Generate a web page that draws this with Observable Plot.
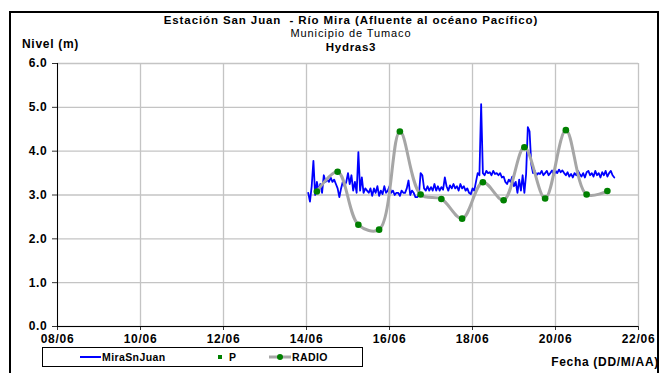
<!DOCTYPE html>
<html><head><meta charset="utf-8">
<script src="https://cdn.jsdelivr.net/npm/d3@7"></script>
<script src="https://cdn.jsdelivr.net/npm/@observablehq/plot@0.6"></script>
<style>
body{margin:0;background:#fff;}
#wrap{position:relative;width:662px;height:373px;overflow:hidden;font-family:"Liberation Sans",Arial,sans-serif;}
.t{position:absolute;white-space:pre;color:#000;font-size:12px;line-height:12px;letter-spacing:0.7px;}
.b{font-weight:bold;}
#frame{position:absolute;left:9px;top:11px;width:646px;height:400px;border:2px solid #000;}
#legend{position:absolute;left:42px;top:347px;width:319px;height:18px;border:1px solid #000;background:#fff;}
svg{position:absolute;left:0;top:0;}
</style></head><body><div id="wrap">
<div id="frame"></div>
</div>
<script>
// ---- data ----
const titleLines = ["Estación San Juan  - Río Mira (Afluente al océano Pacífico)", "Municipio de Tumaco", "Hydras3"];
const yLabel = "Nivel (m)";
const xLabel = "Fecha (DD/M/AA)";
const seriesNames = ["MiraSnJuan", "P", "RADIO"];
const xTickDates = ["2011-06-08","2011-06-10","2011-06-12","2011-06-14","2011-06-16","2011-06-18","2011-06-20","2011-06-22"];
const yTicks = [0,1,2,3,4,5,6];

// MiraSnJuan hourly levels starting 14/06 01:00
const levelStart = "2011-06-14T01:00:00Z";
const levelValues = [
 3.05,2.85,3.2,3.78,3.0,3.3,3.1,3.25,3.05,3.45,3.3,3.35,3.3,3.4,3.3,3.35,3.25,3.15,2.95,3.15,3.3,3.2,3.3,3.5,
 3.25,3.45,3.1,3.3,3.05,3.98,3.1,3.4,3.05,3.15,3.1,3.05,3.15,2.98,3.15,3.05,3.2,2.98,3.1,3.02,3.2,3.05,3.1,3.2,
 3.05,3.1,3.0,3.05,3.05,2.98,3.1,3.05,3.05,3.15,3.33,3.0,3.1,3.05,2.95,2.95,3.0,3.5,3.45,3.15,3.1,3.2,3.1,3.18,
 3.1,3.25,3.1,3.2,3.1,3.18,3.12,3.4,3.2,3.1,3.22,3.15,3.25,3.15,3.2,3.1,3.25,3.15,3.2,3.1,3.15,3.05,3.02,3.15,
 3.1,3.3,3.5,3.45,5.07,3.5,3.45,3.55,3.5,3.52,3.45,3.55,3.48,3.5,3.45,3.5,3.4,3.42,3.3,3.25,3.35,3.3,3.42,3.2,
 3.3,3.05,3.35,3.1,3.45,3.05,3.48,4.55,4.45,3.7,3.5,3.55,3.45,3.5,3.48,3.55,3.45,3.5,3.55,3.45,3.5,3.56,3.45,3.55,
 3.5,3.58,3.52,3.56,3.5,3.45,3.52,3.42,3.48,3.4,3.5,3.45,3.55,3.48,3.42,3.5,3.4,3.52,3.55,3.45,3.5,3.42,3.55,3.45,
 3.5,3.4,3.52,3.45,3.55,3.42,3.5,3.55,3.45,3.4
];

// RADIO readings
const radioTimes = ["2011-06-14T06:00Z","2011-06-14T18:00Z","2011-06-15T06:00Z","2011-06-15T18:00Z","2011-06-16T06:00Z",
 "2011-06-16T18:00Z","2011-06-17T06:00Z","2011-06-17T18:00Z","2011-06-18T06:00Z","2011-06-18T18:00Z",
 "2011-06-19T06:00Z","2011-06-19T18:00Z","2011-06-20T06:00Z","2011-06-20T18:00Z","2011-06-21T06:00Z"];
const radioValues = [3.08,3.53,2.32,2.21,4.45,3.01,2.91,2.46,3.29,2.88,4.09,2.92,4.48,3.01,3.09];

// P (no readings in period)
const pTimes = [];
const pValues = [];

// ---- build ----
const t0 = new Date(levelStart).getTime();
const level = levelValues.map((v,i)=>({t:new Date(t0 + i*3600e3), v}));
const radio = radioTimes.map((d,i)=>({t:new Date(d), v:radioValues[i]}));
const pData = pTimes.map((d,i)=>({t:new Date(d), v:pValues[i]}));
const xTicks = xTickDates.map(d=>new Date(d+"T00:00:00Z"));

const font = '"Liberation Sans", Arial, sans-serif';
const chart = Plot.plot({
  width:662, height:373,
  marginLeft:57, marginRight:24, marginTop:63, marginBottom:47,
  style:{fontFamily:font, fontSize:"12px", fontWeight:"bold", letterSpacing:"0.7px", background:"transparent", color:"#000", overflow:"visible"},
  x:{type:"utc", domain:[xTicks[0], xTicks[xTicks.length-1]]},
  y:{domain:[0,6]},
  marks:[
    Plot.gridX(xTicks, {stroke:"#c4c4c4", strokeOpacity:1, strokeWidth:1.3}),
    Plot.gridY(yTicks, {stroke:"#c4c4c4", strokeOpacity:1, strokeWidth:1.3}),
    Plot.axisX(xTicks, {tickFormat:d3.utcFormat("%d/%m"), tickSize:4, tickPadding:4, label:null, stroke:"#333"}),
    Plot.axisY(yTicks, {tickFormat:d=>d.toFixed(1), tickSize:5, tickPadding:5, label:null, stroke:"#333"}),
    Plot.ruleX([xTicks[0]], {stroke:"#000"}),
    Plot.ruleY([0], {stroke:"#000"}),
    Plot.line(level, {x:"t", y:"v", stroke:"#0000ff", strokeWidth:1.8}),
    Plot.dot(pData, {x:"t", y:"v", symbol:"square", r:2, fill:"#008000"}),
    Plot.line(radio, {x:"t", y:"v", curve:"catmull-rom", stroke:"#a6a6a6", strokeWidth:3}),
    Plot.dot(radio, {x:"t", y:"v", r:3.3, fill:"#008000", stroke:"none"})
  ]
});
const wrap = document.getElementById("wrap");
wrap.insertBefore(chart, wrap.firstChild);

function addText(txt, css, cls){
  const d = document.createElement("div");
  d.className = "t " + (cls||"");
  d.textContent = txt;
  Object.assign(d.style, css);
  wrap.appendChild(d);
  return d;
}
addText(titleLines[0], {left:"0px", width:"702px", textAlign:"center", top:"14px", fontSize:"11.5px", letterSpacing:"0.9px"}, "b");
addText(titleLines[1], {left:"0px", width:"702px", textAlign:"center", top:"28px", fontSize:"11px", lineHeight:"11px", letterSpacing:"0.9px"}, "");
addText(titleLines[2], {left:"0px", width:"702px", textAlign:"center", top:"41px", fontSize:"11.5px"}, "b");
addText(yLabel, {left:"22px", top:"38px"}, "b");
addText(xLabel, {right:"3px", top:"356px"}, "b");

// legend
const lg = document.createElement("div"); lg.id = "legend"; wrap.appendChild(lg);
const ls = d3.select(lg).append("svg").attr("width",319).attr("height",18).style("position","absolute");
ls.append("line").attr("x1",37).attr("x2",58).attr("y1",9).attr("y2",9).attr("stroke","#0000ff").attr("stroke-width",2);
ls.append("rect").attr("x",175).attr("y",7).attr("width",4).attr("height",4).attr("fill","#008000");
ls.append("line").attr("x1",226).attr("x2",248).attr("y1",9).attr("y2",9).attr("stroke","#a6a6a6").attr("stroke-width",3);
ls.append("circle").attr("cx",237).attr("cy",9).attr("r",3).attr("fill","#008000");
const lt = (txt,x)=>{const d=document.createElement("div");d.className="t b";d.textContent=txt;d.style.left=x+"px";d.style.top="3px";d.style.fontSize="10.5px";d.style.letterSpacing="0.4px";lg.appendChild(d);};
lt(seriesNames[0],59); lt(seriesNames[1],186); lt(seriesNames[2],249);
</script></body></html>
